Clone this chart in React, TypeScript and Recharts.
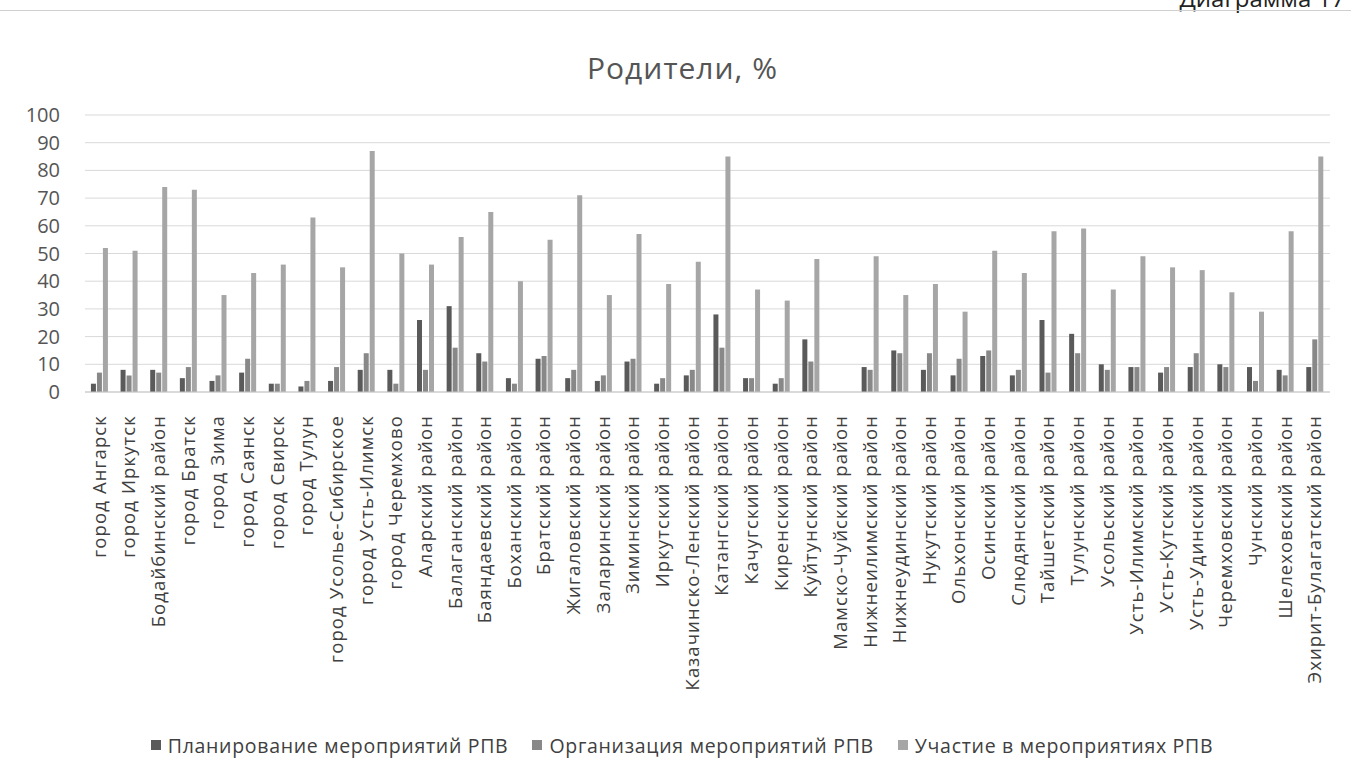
import React from 'react';
import { BarChart, Bar, XAxis, YAxis, CartesianGrid, Legend } from 'recharts';

const categories = [
  'город Ангарск', 'город Иркутск', 'Бодайбинский район', 'город Братск', 'город Зима',
  'город Саянск', 'город Свирск', 'город Тулун', 'город Усолье-Сибирское', 'город Усть-Илимск',
  'город Черемхово', 'Аларский район', 'Балаганский район', 'Баяндаевский район', 'Боханский район',
  'Братский район', 'Жигаловский район', 'Заларинский район', 'Зиминский район', 'Иркутский район',
  'Казачинско-Ленский район', 'Катангский район', 'Качугский район', 'Киренский район', 'Куйтунский район',
  'Мамско-Чуйский район', 'Нижнеилимский район', 'Нижнеудинский район', 'Нукутский район', 'Ольхонский район',
  'Осинский район', 'Слюдянский район', 'Тайшетский район', 'Тулунский район', 'Усольский район',
  'Усть-Илимский район', 'Усть-Кутский район', 'Усть-Удинский район', 'Черемховский район', 'Чунский район',
  'Шелеховский район', 'Эхирит-Булагатский район',
];

const planning = [3, 8, 8, 5, 4, 7, 3, 2, 4, 8, 8, 26, 31, 14, 5, 12, 5, 4, 11, 3, 6, 28, 5, 3, 19, 0, 9, 15, 8, 6, 13, 6, 26, 21, 10, 9, 7, 9, 10, 9, 8, 9];
const organization = [7, 6, 7, 9, 6, 12, 3, 4, 9, 14, 3, 8, 16, 11, 3, 13, 8, 6, 12, 5, 8, 16, 5, 5, 11, 0, 8, 14, 14, 12, 15, 8, 7, 14, 8, 9, 9, 14, 9, 4, 6, 19];
const participation = [52, 51, 74, 73, 35, 43, 46, 63, 45, 87, 50, 46, 56, 65, 40, 55, 71, 35, 57, 39, 47, 85, 37, 33, 48, 0, 49, 35, 39, 29, 51, 43, 58, 59, 37, 49, 45, 44, 36, 29, 58, 85];

const yTicks = [0, 10, 20, 30, 40, 50, 60, 70, 80, 90, 100];

const seriesNames = ['Планирование мероприятий РПВ', 'Организация мероприятий РПВ', 'Участие в мероприятиях РПВ'];
const seriesKeys = ['planning', 'organization', 'participation'];
const seriesColors = ['#5a5a5a', '#888888', '#a6a6a6'];

const data = categories.map((name, i) => ({
  name,
  planning: planning[i],
  organization: organization[i],
  participation: participation[i],
}));

const FONT = '"Open Sans", "DejaVu Sans", sans-serif';

const XTick = (props: any) => {
  const { x, y, payload } = props;
  return (
    <g transform={`translate(${x},${y})`}>
      <text
        transform="rotate(-90)"
        x={-15}
        y={0}
        dy={6}
        textAnchor="end"
        fill="#404040"
        fontSize={18.5}
        letterSpacing={1.1}
        fontFamily={FONT}
      >
        {payload.value}
      </text>
    </g>
  );
};

const YTick = (props: any) => {
  const { x, y, payload } = props;
  return (
    <text x={x} y={y} dy={7} textAnchor="end" fill="#555" fontSize={20} fontFamily={FONT}>
      {payload.value}
    </text>
  );
};

const LegendContent = () => (
  <div
    style={{
      height: 26,
      display: 'flex',
      justifyContent: 'center',
      alignItems: 'center',
      gap: 24,
      fontFamily: FONT,
      fontSize: 19.5,
      letterSpacing: 0.7,
      color: '#404040',
      paddingLeft: 34,
    }}
  >
    {seriesNames.map((n, i) => (
      <div key={n} style={{ display: 'flex', alignItems: 'center', gap: 7 }}>
        <span style={{ width: 10, height: 10, background: seriesColors[i], display: 'inline-block' }} />
        <span>{n}</span>
      </div>
    ))}
  </div>
);

export default function App() {
  return (
    <div
      style={{
        position: 'absolute',
        left: 0,
        top: 0,
        width: 1351,
        height: 767,
        overflow: 'hidden',
        background: '#fff',
      }}
    >
      <div
        style={{
          position: 'absolute',
          right: 6,
          top: -19,
          fontFamily: FONT,
          fontSize: 24,
          color: '#222',
        }}
      >
        Диаграмма 17
      </div>
      <div style={{ position: 'absolute', left: 0, right: 0, top: 10, height: 1, background: '#d0d0d0' }} />
      <div
        style={{
          position: 'absolute',
          left: 0,
          width: 1351,
          top: 47,
          textAlign: 'center',
          fontFamily: FONT,
          fontSize: 30,
          letterSpacing: 1,
          color: '#555',
          paddingLeft: 14,
          boxSizing: 'border-box',
        }}
      >
        Родители, %
      </div>
      <BarChart
        width={1351}
        height={767}
        data={data}
        margin={{ top: 115, right: 21, left: 0, bottom: 9 }}
        barCategoryGap="20%"
        barGap={1}
      >
        <CartesianGrid vertical={false} stroke="#d9d9d9" />
        <XAxis
          dataKey="name"
          interval={0}
          height={340}
          tick={<XTick />}
          tickLine={false}
          axisLine={{ stroke: '#c8c8c8' }}
        />
        <YAxis
          domain={[0, 100]}
          ticks={yTicks}
          interval={0}
          width={85}
          axisLine={false}
          tickLine={false}
          tickSize={0}
          tickMargin={25}
          tick={<YTick />}
        />
        <Legend verticalAlign="bottom" align="center" content={<LegendContent />} />
        {seriesKeys.map((k, i) => (
          <Bar key={k} dataKey={k} name={seriesNames[i]} fill={seriesColors[i]} isAnimationActive={false} />
        ))}
      </BarChart>
    </div>
  );
}
